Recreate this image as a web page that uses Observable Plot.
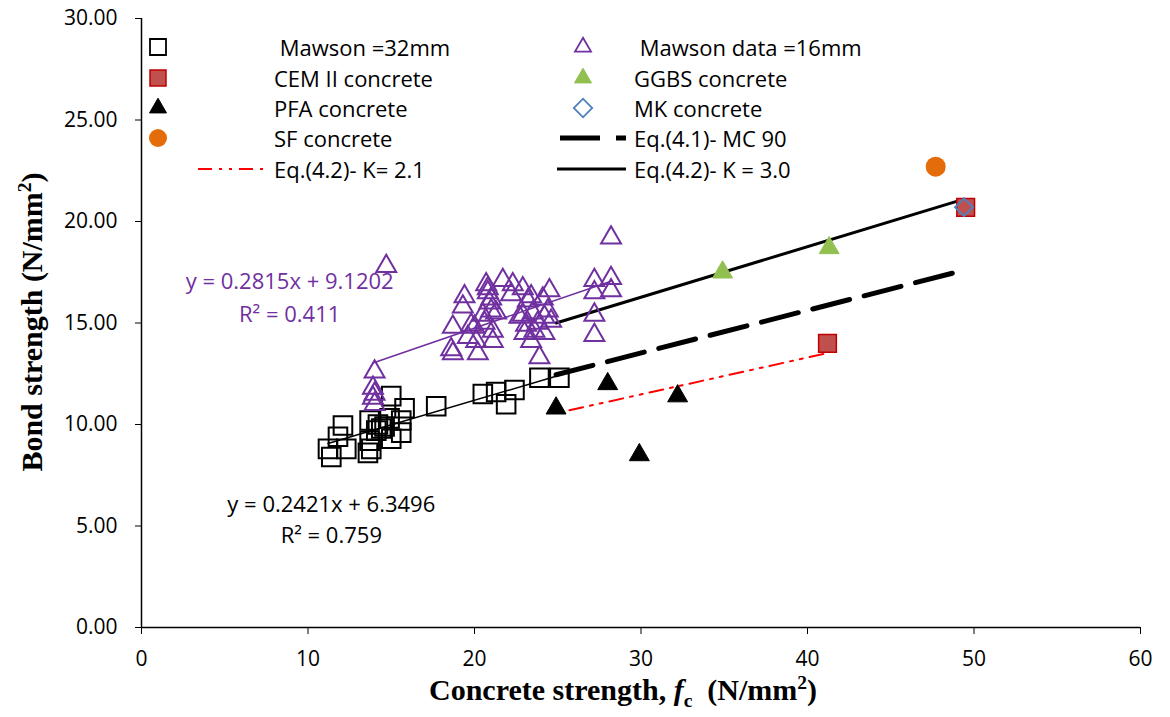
<!DOCTYPE html>
<html><head><meta charset="utf-8">
<script src="https://cdn.jsdelivr.net/npm/d3@7"></script>
<script src="https://cdn.jsdelivr.net/npm/@observablehq/plot@0.6"></script>
<style>
body{margin:0;background:#fff;}
#wrap{position:relative;width:1170px;height:717px;font-family:"Open Sans",Lato,sans-serif;}
.leg{position:absolute;font-size:22px;line-height:1;white-space:pre;transform:translateY(-50%);color:#000;}
.icon{position:absolute;overflow:visible;}
.ylab{position:absolute;left:31px;top:322px;transform:translate(-50%,-50%) rotate(-90deg);font-family:"Liberation Serif",serif;font-weight:bold;font-size:30px;white-space:nowrap;}
.xlab{position:absolute;left:623px;top:692px;transform:translate(-50%,-50%);font-family:"Liberation Serif",serif;font-weight:bold;font-size:30px;white-space:pre;}
</style></head><body><div id="wrap"></div>
<script>
// ---- data ----
const xTicks = [0, 10, 20, 30, 40, 50, 60];
const yTicks = [0, 5, 10, 15, 20, 25, 30];

const mawson32X = [11.2, 11.4, 11.8, 12.1, 12.3, 13.7, 13.8, 13.7, 13.6, 14.2, 14.1, 14.4, 15.0, 15.0, 14.9, 15.6, 15.8, 15.6, 14.6, 17.7, 20.5, 21.3, 21.9, 22.4, 23.9, 25.1];
const mawson32Y = [8.8, 8.4, 9.4, 9.95, 8.8, 10.2, 8.8, 9.2, 8.6, 10.0, 9.7, 9.8, 11.4, 9.3, 10.3, 10.2, 10.8, 9.6, 9.9, 10.9, 11.5, 11.6, 11.0, 11.7, 12.3, 12.3];

const mawson16X = [14.0, 13.9, 14.0, 13.9, 14.0, 14.7,
  18.6, 18.7, 19.4, 19.3, 18.7, 19.8, 19.6, 20.1, 20.2, 20.7, 20.8, 20.9, 21.0, 20.5, 20.6, 21.1, 21.1,
  21.7, 22.3, 22.2, 22.9, 23.2, 22.9, 23.1, 23.0, 23.4, 23.4, 24.1, 24.5, 24.2, 24.2, 23.6, 24.6, 23.9,
  20.8, 21.0, 23.5, 23.8, 24.4, 22.7, 21.3, 20.0,
  27.2, 28.2, 28.2, 27.2, 27.2, 27.2, 28.2];
const mawson16Y = [12.6, 11.8, 11.5, 11.3, 11.0, 17.8,
  13.7, 13.5, 16.3, 15.8, 14.8, 14.9, 14.3, 14.1, 13.5, 16.9, 16.5, 16.0, 15.6, 15.4, 15.0, 14.6, 14.1,
  17.1, 16.9, 16.4, 16.7, 16.1, 15.4, 14.9, 14.5, 14.1, 16.3, 16.2, 16.6, 15.3, 14.5, 14.6, 15.1, 13.3,
  16.7, 16.2, 15.5, 15.0, 15.6, 15.3, 15.5, 14.8,
  17.1, 17.2, 16.6, 16.5, 15.4, 14.4, 19.2];

const cemX = [41.2, 49.5];
const cemY = [14.0, 20.7];
const ggbsX = [34.9, 41.3];
const ggbsY = [17.5, 18.7];
const pfaX = [24.9, 28.0, 29.9, 32.2];
const pfaY = [10.8, 12.0, 8.5, 11.4];
const mkX = [49.4];
const mkY = [20.7];
const sfX = [47.7];
const sfY = [22.7];

// Equation lines, end points
const mc90X = [24.9, 49.4];
const mc90Y = [12.45, 17.6];
const k30X = [24.9, 49.4];
const k30Y = [15.0, 21.1];
const k21X = [25.7, 41.1];
const k21Y = [10.7, 13.5];

// Trendlines (from displayed equations)
const trend32 = {a: 0.2421, b: 6.3496, label1: "y = 0.2421x + 6.3496", label2: "R² = 0.759"};
const trend16 = {a: 0.2815, b: 9.1202, label1: "y = 0.2815x + 9.1202", label2: "R² = 0.411"};

// ---- build ----
const zip = (xs, ys) => xs.map((x, i) => ({x, y: ys[i]}));
const m32 = zip(mawson32X, mawson32Y);
const m16 = zip(mawson16X, mawson16Y);
const line32 = d3.extent(mawson32X).map(x => ({x, y: trend32.a * x + trend32.b}));
const line16 = d3.extent(mawson16X).map(x => ({x, y: trend16.a * x + trend16.b}));

const PURPLE = "#7030a0";
const font = "'Open Sans', Lato, sans-serif";

const chart = Plot.plot({
  width: 1170, height: 717,
  marginLeft: 141, marginRight: 30, marginTop: 18, marginBottom: 90,
  style: {fontFamily: font, fontSize: "21px", color: "#000", background: "#fff", overflow: "visible"},
  x: {domain: [0, 60], ticks: xTicks, tickSize: 7, tickPadding: 17, label: null, tickFormat: d3.format("d")},
  y: {domain: [0, 30], ticks: yTicks, tickSize: 6, tickPadding: 18, label: null, tickFormat: d3.format(".2f")},
  marks: [
    Plot.ruleX([0], {stroke: "#000", strokeWidth: 1.5}),
    Plot.ruleY([0], {stroke: "#000", strokeWidth: 1.5}),
    Plot.line(line32, {x: "x", y: "y", stroke: "#000", strokeWidth: 1.5}),
    Plot.line(line16, {x: "x", y: "y", stroke: PURPLE, strokeWidth: 1.5}),
    Plot.line(zip(mc90X, mc90Y), {x: "x", y: "y", stroke: "#000", strokeWidth: 5, strokeDasharray: "38,15"}),
    Plot.line(zip(k30X, k30Y), {x: "x", y: "y", stroke: "#000", strokeWidth: 3}),
    Plot.line(zip(k21X, k21Y), {x: "x", y: "y", stroke: "#ff0000", strokeWidth: 2, strokeDasharray: "14,7,3,7,3,7"}),
    Plot.dot(m32, {x: "x", y: "y", symbol: "square", r: 10.5, fill: "none", stroke: "#000", strokeWidth: 2}),
    Plot.dot(m16, {x: "x", y: "y", symbol: "triangle", r: 7.4, fill: "none", stroke: PURPLE, strokeWidth: 2}),
    Plot.dot(zip(pfaX, pfaY), {x: "x", y: "y", symbol: "triangle", r: 7.4, fill: "#000", stroke: "#000", strokeWidth: 1}),
    Plot.dot(zip(ggbsX, ggbsY), {x: "x", y: "y", symbol: "triangle", r: 7.4, fill: "#92c050", stroke: "#92c050", strokeWidth: 1}),
    Plot.dot(zip(cemX, cemY), {x: "x", y: "y", symbol: "square", r: 10, fill: "#c0504d", stroke: "#c00000", strokeWidth: 1.5}),
    Plot.dot(zip(mkX, mkY), {x: "x", y: "y", symbol: "diamond2", r: 8, fill: "none", stroke: "#4f81bd", strokeWidth: 2}),
    Plot.dot(zip(sfX, sfY), {x: "x", y: "y", symbol: "circle", r: 10, fill: "#e46c0a", stroke: "none"}),
    Plot.text([trend16.label1], {x: 8.9, y: 17.0, text: d => d, fill: PURPLE, fontSize: 22}),
    Plot.text([trend16.label2], {x: 8.9, y: 15.4, text: d => d, fill: PURPLE, fontSize: 22}),
    Plot.text([trend32.label1], {x: 11.4, y: 6.05, text: d => d, fill: "#000", fontSize: 22}),
    Plot.text([trend32.label2], {x: 11.4, y: 4.5, text: d => d, fill: "#000", fontSize: 22})
  ]
});
const wrap = document.getElementById("wrap");
wrap.appendChild(chart);

// ---- legend ----
const legendItems = [
  {label: " Mawson =32mm", col: 0, row: 0, icon: {symbol: d3.symbolSquare, size: 16, fill: "none", stroke: "#000", sw: 1.8}},
  {label: "CEM II concrete", col: 0, row: 1, icon: {symbol: d3.symbolSquare, size: 16, fill: "#c0504d", stroke: "#c00000", sw: 1.5}},
  {label: "PFA concrete", col: 0, row: 2, icon: {symbol: d3.symbolTriangle, size: 17, fill: "#000", stroke: "#000", sw: 1}},
  {label: "SF concrete", col: 0, row: 3, icon: {symbol: d3.symbolCircle, size: 18, fill: "#e46c0a", stroke: "none", sw: 0}},
  {label: "Eq.(4.2)- K= 2.1", col: 0, row: 4, line: {stroke: "#ff0000", sw: 2, dash: "14,7,3,7,3,7", x0: 198, x1: 267}},
  {label: " Mawson data =16mm", col: 1, row: 0, icon: {symbol: d3.symbolTriangle, size: 16, fill: "none", stroke: PURPLE, sw: 1.8}},
  {label: "GGBS concrete", col: 1, row: 1, icon: {symbol: d3.symbolTriangle, size: 17, fill: "#92c050", stroke: "#92c050", sw: 1}},
  {label: "MK concrete", col: 1, row: 2, icon: {symbol: d3.symbolSquare, size: 13, rotate: 45, fill: "none", stroke: "#4f81bd", sw: 1.8}},
  {label: "Eq.(4.1)- MC 90", col: 1, row: 3, line: {stroke: "#000", sw: 5, dash: "40,16", x0: 560, x1: 626}},
  {label: "Eq.(4.2)- K = 3.0", col: 1, row: 4, line: {stroke: "#000", sw: 3, dash: null, x0: 557, x1: 626}}
];
const rowY = [47, 78, 108, 138, 169];
const iconX = [158, 583];
const textX = [274, 634];
for (const it of legendItems) {
  const y = rowY[it.row];
  const t = document.createElement("div");
  t.className = "leg";
  t.textContent = it.label;
  t.style.left = textX[it.col] + "px";
  t.style.top = y + "px";
  wrap.appendChild(t);
  const s = d3.create("svg").attr("class", "icon")
    .style("left", "0px").style("top", "0px").attr("width", 1170).attr("height", 717)
    .style("pointer-events", "none");
  if (it.icon) {
    const ic = it.icon;
    const side = ic.size;
    let area;
    if (ic.symbol === d3.symbolSquare) area = side * side;
    else if (ic.symbol === d3.symbolTriangle) area = side * side * Math.sqrt(3) / 4;
    else area = Math.PI * (side / 2) ** 2;
    s.append("path").attr("d", d3.symbol(ic.symbol, area)())
      .attr("transform", `translate(${iconX[it.col]},${y})` + (ic.rotate ? ` rotate(${ic.rotate})` : ""))
      .attr("fill", ic.fill).attr("stroke", ic.stroke).attr("stroke-width", ic.sw);
  } else {
    const ln = it.line;
    s.append("line").attr("x1", ln.x0).attr("x2", ln.x1).attr("y1", y).attr("y2", y)
      .attr("stroke", ln.stroke).attr("stroke-width", ln.sw).attr("stroke-dasharray", ln.dash);
  }
  wrap.appendChild(s.node());
}

// ---- axis titles ----
const yl = document.createElement("div");
yl.className = "ylab";
yl.innerHTML = "Bond strength (N/mm<sup style='font-size:0.65em'>2</sup>)";
wrap.appendChild(yl);
const xl = document.createElement("div");
xl.className = "xlab";
xl.innerHTML = "Concrete strength, <i>f</i><sub style='font-size:0.65em'>c</sub>  (N/mm<sup style='font-size:0.65em'>2</sup>)";
wrap.appendChild(xl);
</script>
</body></html>
